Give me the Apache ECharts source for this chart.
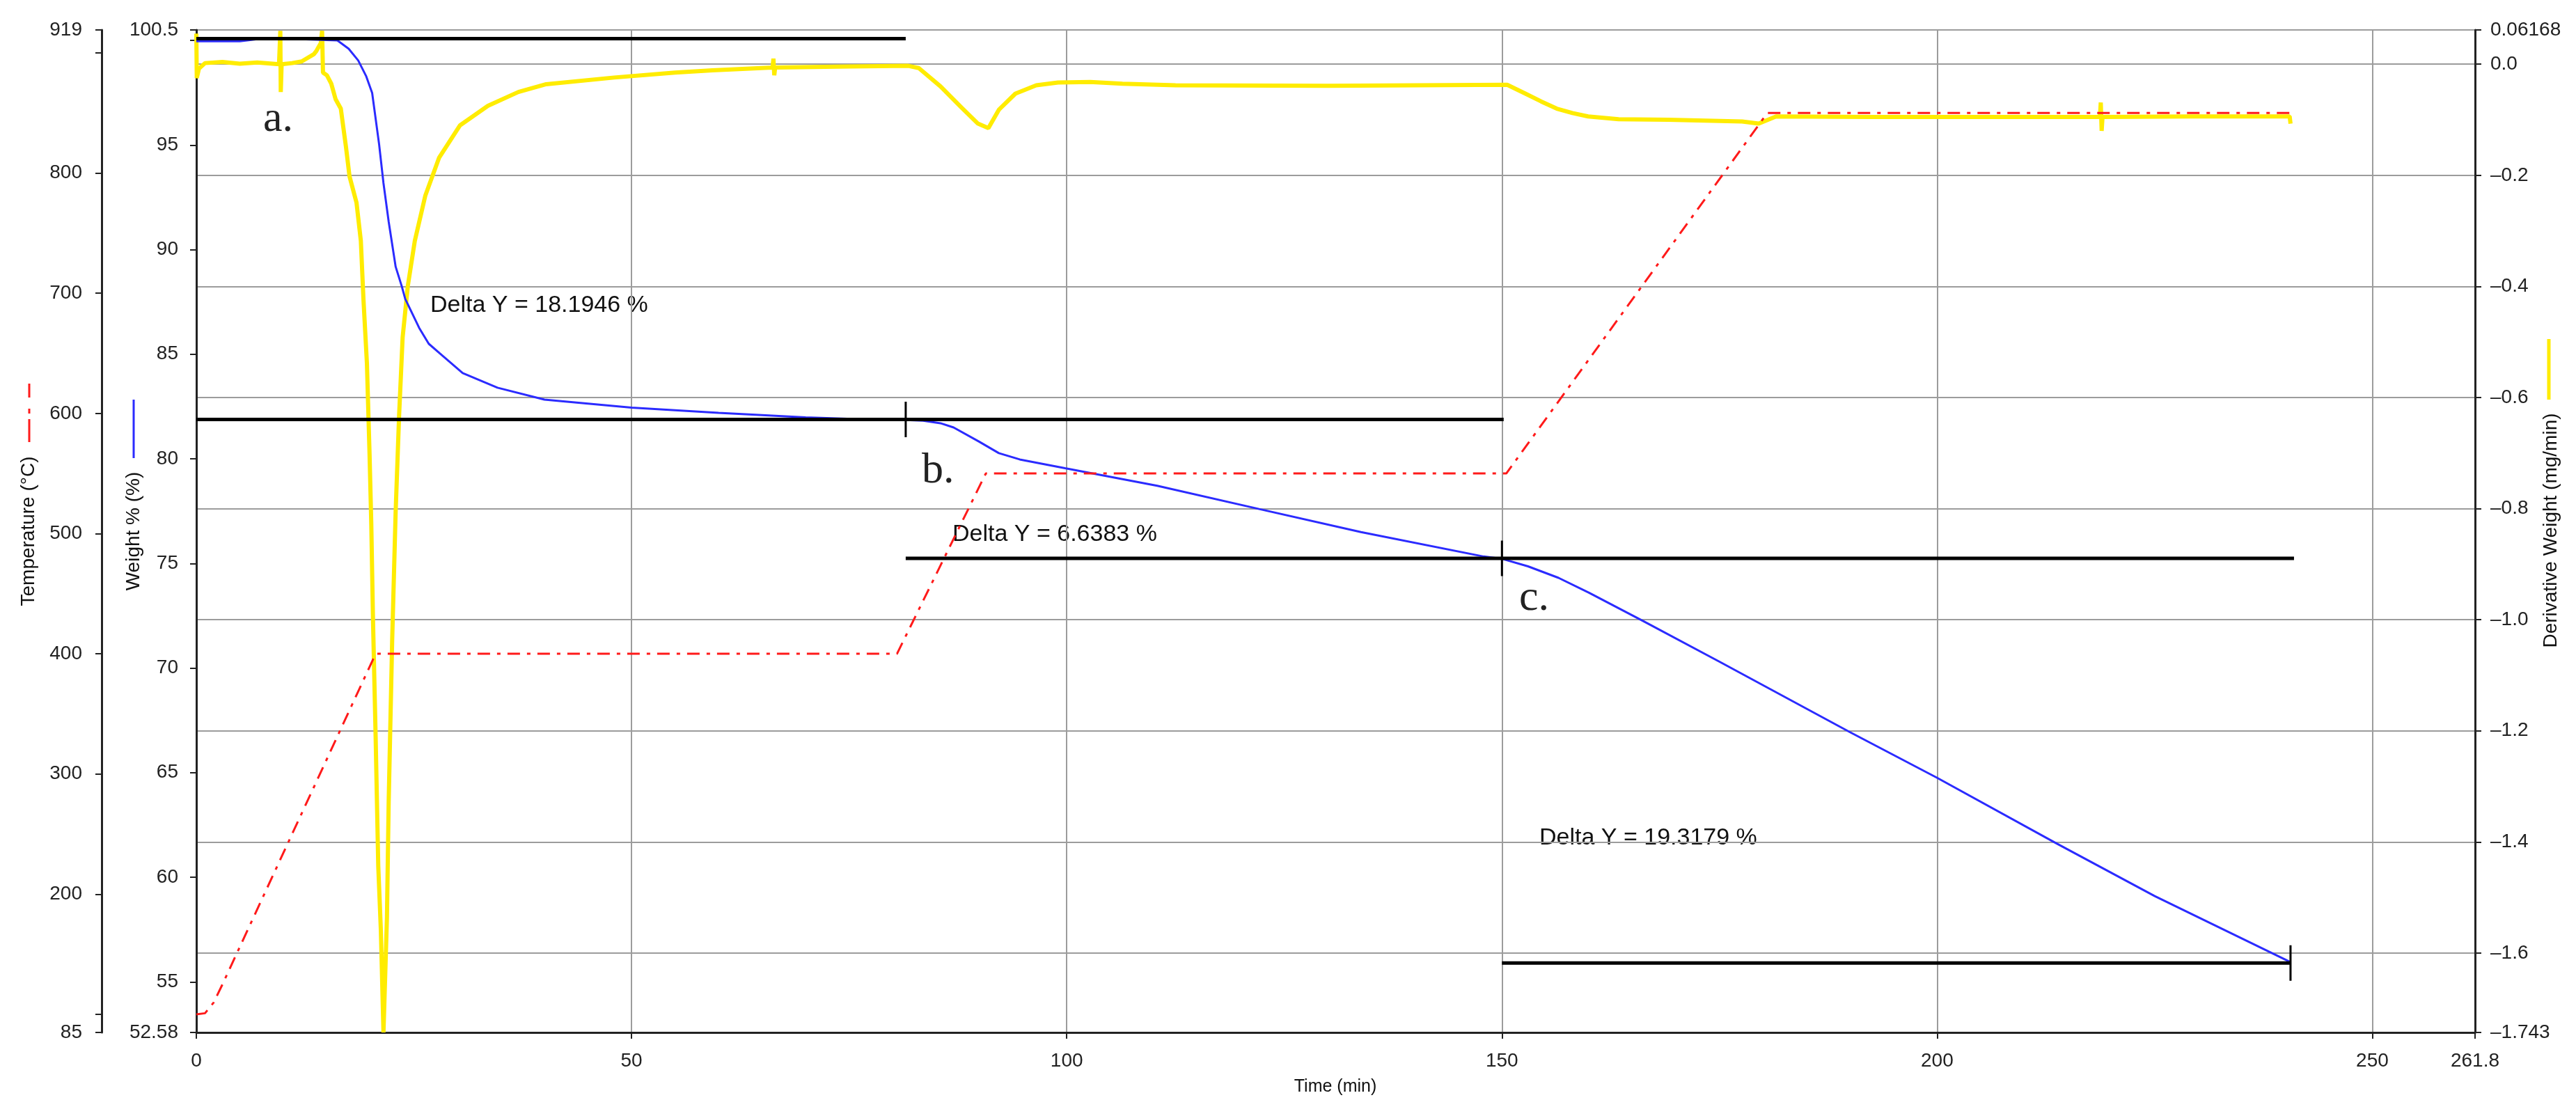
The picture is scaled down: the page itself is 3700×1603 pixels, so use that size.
<!DOCTYPE html>
<html>
<head>
<meta charset="utf-8">
<script src="https://cdn.jsdelivr.net/npm/echarts@6/dist/echarts.min.js"></script>
<style>
html,body{margin:0;padding:0;background:#ffffff;}
#chart{width:3700px;height:1603px;}
</style>
</head>
<body>
<div id="chart"></div>
<script>
// ---------------- DATA ----------------
// Temperature programme (°C) vs time (min)
const tempTime  = [0, 1.0, 2.0, 3.0, 20.6, 80.5, 90.7, 150.5, 180.5, 240.6];
const tempValue = [100, 101, 110, 125, 400, 400, 550, 550, 850, 850];

// Weight % vs time (min)
const weightTime  = [0, 5, 7, 12, 16.2, 17.5, 18.6, 19.5, 20.2, 21.0, 21.5, 22.1, 22.9, 23.6, 24.0, 25.6, 26.7, 28.0, 30.6, 34.6, 40.0, 50, 60, 70, 76, 81.5, 83.5, 85.5, 87.0, 89.9, 92.2, 94.6, 99.8, 110.4, 122.1, 133.8, 147.9, 150, 153, 156.5, 160, 166.2, 175, 190, 200, 213.7, 225, 240.5];
const weightValue = [99.96, 99.96, 100.06, 100.06, 100.0, 99.6, 99.04, 98.3, 97.49, 95.03, 93.18, 91.33, 89.18, 88.25, 87.64, 86.26, 85.5, 85.03, 84.1, 83.4, 82.83, 82.45, 82.2, 81.98, 81.9, 81.86, 81.82, 81.7, 81.5, 80.83, 80.27, 79.97, 79.55, 78.71, 77.6, 76.5, 75.33, 75.22, 74.86, 74.31, 73.6, 72.25, 70.3, 66.93, 64.75, 61.62, 59.1, 55.96];

// Derivative weight (mg/min) vs time (min)
const derivTime  = [0, 0.05, 0.3, 1, 3, 5, 7, 9.5, 9.65, 9.7, 9.8, 11, 12.1, 13.5, 13.8, 14.3, 14.45, 14.55, 15.0, 15.5, 16.0, 16.6, 17.2, 17.6, 18.4, 18.9, 19.2, 19.6, 19.9, 20.1, 20.3, 20.6, 20.9, 21.2, 21.5, 21.9, 22.1, 22.5, 22.9, 23.3, 23.7, 24.3, 25.1, 26.3, 27.9, 30.3, 33.5, 37.0, 40.2, 48, 55, 59.3, 66.2, 66.3, 66.4, 66.5, 75, 81.8, 83.0, 85.5, 87.9, 89.8, 91.0, 92.2, 94.1, 96.5, 99.0, 102.7, 106.4, 112.5, 130, 150.6, 152.7, 154.5, 156.3, 158.1, 159.9, 163.4, 169.1, 177.6, 179.5, 181.5, 192.4, 218.7, 218.8, 218.9, 219.0, 229.3, 240.5, 240.6];
const derivValue = [0.055, -0.025, -0.008, 0.002, 0.004, 0.001, 0.003, 0.0, 0.06, -0.05, 0.0, 0.002, 0.005, 0.018, 0.024, 0.038, 0.06, -0.015, -0.02, -0.035, -0.063, -0.08, -0.15, -0.202, -0.249, -0.318, -0.423, -0.539, -0.701, -0.828, -1.002, -1.211, -1.443, -1.559, -1.743, -1.536, -1.327, -1.037, -0.805, -0.631, -0.492, -0.399, -0.318, -0.237, -0.168, -0.110, -0.075, -0.05, -0.036, -0.024, -0.015, -0.011, -0.006, 0.01, -0.02, -0.006, -0.004, -0.003, -0.007, -0.040, -0.078, -0.107, -0.115, -0.082, -0.053, -0.038, -0.033, -0.032, -0.035, -0.038, -0.039, -0.037, -0.053, -0.067, -0.080, -0.088, -0.094, -0.099, -0.100, -0.103, -0.107, -0.094, -0.095, -0.095, -0.069, -0.120, -0.095, -0.094, -0.094, -0.107];

// Step (Delta Y) reference lines on the weight scale
const stepStart = [0, 0, 81.5, 150];
const stepEnd   = [81.5, 150.2, 241.0, 240.6];
const stepLevel = [100.08, 81.88, 75.24, 55.90];

// Marker ticks on the step lines
const markTime  = [81.5, 150, 240.6];
const markLevel = [81.88, 75.24, 55.90];

// Texts
const deltaLabels = ['Delta Y = 18.1946 %', 'Delta Y = 6.6383 %', 'Delta Y = 19.3179 %'];
const stageLabels = ['a.', 'b.', 'c.'];
const axisTitles = { x: 'Time (min)', temp: 'Temperature (°C)', weight: 'Weight % (%)', deriv: 'Derivative Weight (mg/min)' };

// Axis ranges / tick labels
const xRange = [0, 261.8];
const tempRange = [85, 919];
const weightRange = [52.58, 100.5];
const derivRange = [-1.743, 0.06168];
const tempHiddenTicks = [100, 900];
const weightHiddenTicks = [100];

// ---------------- BUILD ----------------
const zip = (a, b) => a.map((v, i) => [v, b[i]]);
const near = (a, b) => Math.abs(a - b) < 1e-6;
const MINUS = '\u2013';

const LABEL_FONT = 'Liberation Sans, Arial, sans-serif';
const AX = '#222';
const GRID = '#9c9c9c';

const stepSeries = stepStart.map((s, i) => ({
  type: 'line', yAxisIndex: 0, z: 6, silent: true, showSymbol: false, animation: false,
  data: [[s, stepLevel[i]], [stepEnd[i], stepLevel[i]]],
  lineStyle: { color: '#000', width: 5 }
}));
const TICK_HALF = 0.85;
const markSeries = markTime.map((t, i) => ({
  type: 'line', yAxisIndex: 0, z: 6, silent: true, showSymbol: false, animation: false,
  data: [[t, markLevel[i] - TICK_HALF], [t, markLevel[i] + TICK_HALF]],
  lineStyle: { color: '#000', width: 3 }
}));

const baseAxis = {
  axisLine: { show: true, onZero: false, lineStyle: { color: AX, width: 3 } },
  axisTick: { show: true, length: 9, lineStyle: { color: AX, width: 2 } },
  splitLine: { show: false },
};

const option = {
  animation: false,
  backgroundColor: '#ffffff',
  grid: { left: 282, right: 145, top: 43, bottom: 120, containLabel: false },
  xAxis: Object.assign({}, baseAxis, {
    type: 'value', min: xRange[0], max: xRange[1], splitNumber: 5,
    axisLabel: { margin: 27, fontSize: 28, color: AX, fontFamily: LABEL_FONT,
      formatter: v => near(v, xRange[1]) ? '261.8' : String(Math.round(v)) },
    splitLine: { show: true, lineStyle: { color: GRID, width: 2 } }
  }),
  yAxis: [
    Object.assign({}, baseAxis, {
      type: 'value', position: 'left', offset: 0,
      min: weightRange[0], max: weightRange[1], splitNumber: 10,
      axisLabel: { margin: 26, fontSize: 28, color: AX, fontFamily: LABEL_FONT,
        formatter: v => {
          if (weightHiddenTicks.some(h => near(v, h))) return '';
          if (near(v, weightRange[0])) return '52.58';
          if (near(v, weightRange[1])) return '100.5';
          return String(Math.round(v));
        } }
    }),
    Object.assign({}, baseAxis, {
      type: 'value', position: 'left', offset: 136,
      min: tempRange[0], max: tempRange[1], splitNumber: 8,
      axisLabel: { margin: 28, fontSize: 28, color: AX, fontFamily: LABEL_FONT,
        formatter: v => tempHiddenTicks.some(h => near(v, h)) ? '' : String(Math.round(v)) }
    }),
    Object.assign({}, baseAxis, {
      type: 'value', position: 'right', offset: 0,
      min: derivRange[0], max: derivRange[1], splitNumber: 9,
      axisLabel: { margin: 22, fontSize: 28, color: AX, fontFamily: LABEL_FONT,
        formatter: v => {
          if (near(v, derivRange[1])) return '0.06168';
          if (near(v, derivRange[0])) return MINUS + '1.743';
          if (near(v, 0)) return '0.0';
          const s = Math.abs(v).toFixed(1);
          return v < 0 ? MINUS + s : s;
        } },
      splitLine: { show: true, lineStyle: { color: GRID, width: 2 } }
    })
  ],
  series: [
    { type: 'line', name: 'Derivative Weight', yAxisIndex: 2, z: 2, showSymbol: false, silent: true,
      data: zip(derivTime, derivValue), lineStyle: { color: '#ffec00', width: 6 } },
    { type: 'line', name: 'Weight', yAxisIndex: 0, z: 3, showSymbol: false, silent: true,
      data: zip(weightTime, weightValue), lineStyle: { color: '#2b2bff', width: 3 } },
    { type: 'line', name: 'Temperature', yAxisIndex: 1, z: 4, showSymbol: false, silent: true,
      data: zip(tempTime, tempValue), lineStyle: { color: '#ff1a1a', width: 3, type: [18, 10, 5, 10] } },
  ].concat(stepSeries, markSeries),
  graphic: [
    // stage labels
    { type: 'text', x: 378, y: 172, style: { text: stageLabels[0], font: '62px "Liberation Serif", serif', fill: '#222', align: 'left', verticalAlign: 'middle' } },
    { type: 'text', x: 1324, y: 677, style: { text: stageLabels[1], font: '62px "Liberation Serif", serif', fill: '#222', align: 'left', verticalAlign: 'middle' } },
    { type: 'text', x: 2182, y: 860, style: { text: stageLabels[2], font: '62px "Liberation Serif", serif', fill: '#222', align: 'left', verticalAlign: 'middle' } },
    // delta labels
    { type: 'text', x: 618, y: 439, style: { text: deltaLabels[0], font: '34px "Liberation Sans", Arial, sans-serif', fill: '#111', align: 'left', verticalAlign: 'middle' } },
    { type: 'text', x: 1368, y: 768, style: { text: deltaLabels[1], font: '34px "Liberation Sans", Arial, sans-serif', fill: '#111', align: 'left', verticalAlign: 'middle' } },
    { type: 'text', x: 2211, y: 1204, style: { text: deltaLabels[2], font: '34px "Liberation Sans", Arial, sans-serif', fill: '#111', align: 'left', verticalAlign: 'middle' } },
    // axis titles
    { type: 'text', x: 1918, y: 1561, style: { text: axisTitles.x, font: '25px "Liberation Sans", Arial, sans-serif', fill: '#111', align: 'center', verticalAlign: 'middle' } },
    { type: 'text', x: 41, y: 763, rotation: Math.PI / 2, style: { text: axisTitles.temp, font: '28px "Liberation Sans", Arial, sans-serif', fill: '#111', align: 'center', verticalAlign: 'middle' } },
    { type: 'text', x: 192, y: 763, rotation: Math.PI / 2, style: { text: axisTitles.weight, font: '28px "Liberation Sans", Arial, sans-serif', fill: '#111', align: 'center', verticalAlign: 'middle' } },
    { type: 'text', x: 3664, y: 762, rotation: Math.PI / 2, style: { text: axisTitles.deriv, font: '28px "Liberation Sans", Arial, sans-serif', fill: '#111', align: 'center', verticalAlign: 'middle' } },
    // legend glyphs next to titles
    { type: 'line', shape: { x1: 42, y1: 551, x2: 42, y2: 571 }, style: { stroke: '#ff1a1a', lineWidth: 3 } },
    { type: 'line', shape: { x1: 42, y1: 587, x2: 42, y2: 594 }, style: { stroke: '#ff1a1a', lineWidth: 3 } },
    { type: 'line', shape: { x1: 42, y1: 602, x2: 42, y2: 635 }, style: { stroke: '#ff1a1a', lineWidth: 3 } },
    { type: 'line', shape: { x1: 192, y1: 574, x2: 192, y2: 658 }, style: { stroke: '#2b2bff', lineWidth: 3 } },
    { type: 'line', shape: { x1: 3661, y1: 487, x2: 3661, y2: 574 }, style: { stroke: '#ffec00', lineWidth: 5 } }
  ]
};

const chart = echarts.init(document.getElementById('chart'), null, { renderer: 'canvas' });
chart.setOption(option);
</script>
</body>
</html>
